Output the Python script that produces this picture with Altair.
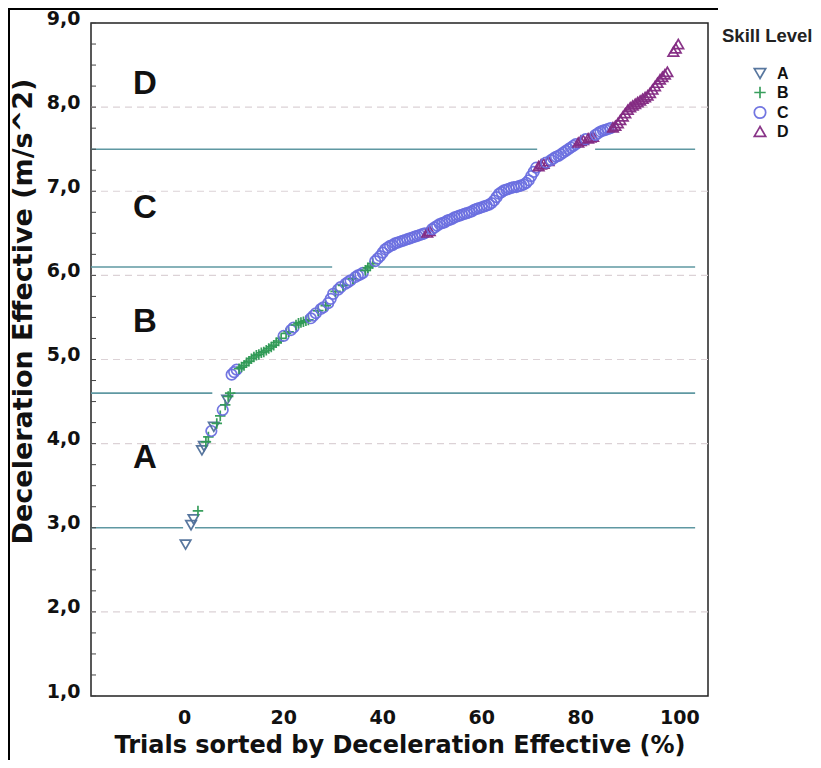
import altair as alt
import pandas as pd

# ---- data ----
trial_pct = [
    0.3, 1.4, 1.9, 2.8,
    3.6, 4.0, 4.4, 4.9, 5.5, 6.0, 6.6, 7.3, 7.8, 8.3, 8.7, 8.9, 9.3,
    9.6, 10.1, 10.6, 11.1, 11.6, 12.1, 12.6, 13.1, 13.6, 14.1, 14.6, 15.1, 15.6, 16.1, 16.6,
    17.1, 17.6, 18.1, 18.6, 19.1, 19.6, 20.1, 20.6, 21.1, 21.6, 22.1, 22.6, 23.1, 23.6, 24.1,
    24.6, 25.1, 25.6, 26.1, 26.6, 27.1, 27.6, 28.1, 28.6, 29.1, 29.6, 30.1, 30.6, 31.1, 31.6,
    32.1, 32.6, 33.1, 33.6, 34.1, 34.6, 35.1, 35.6, 36.1, 36.6, 37.1, 37.6, 38.1, 38.6, 39.1,
    39.6, 40.1, 40.6, 41.1, 41.6, 42.1, 42.6, 43.1, 43.6, 44.1, 44.6, 45.1, 45.6, 46.1, 46.6,
    47.1, 47.6, 48.1, 48.6, 49.1, 49.6, 50.1, 50.6, 51.1, 51.6, 52.1, 52.6, 53.1, 53.6, 54.1,
    54.6, 55.1, 55.6, 56.1, 56.6, 57.1, 57.6, 58.1, 58.6, 59.1, 59.6, 60.1, 60.6, 61.1, 61.6,
    62.1, 62.6, 63.1, 63.6, 64.1, 64.6, 65.1, 65.6, 66.1, 66.6, 67.1, 67.6, 68.1, 68.6, 69.1,
    69.6, 70.1, 70.6, 71.1, 71.6, 72.1, 72.6, 73.1, 73.6, 74.1, 74.6, 75.1, 75.6, 76.1, 76.6,
    77.1, 77.6, 78.1, 78.6, 79.1, 79.6, 80.1, 80.6, 81.1, 81.6, 82.1, 82.6, 83.1, 83.6, 84.1,
    84.6, 85.1, 85.6, 86.1, 86.6, 87.1, 87.6, 88.1, 88.6, 89.1, 89.6, 90.1, 90.6, 91.1, 91.6,
    92.1, 92.6, 93.1, 93.6, 94.1, 94.6, 95.1, 95.6, 96.1, 96.6, 97.1, 97.6, 98.8, 99.3, 99.8,
]
decel = [
    2.80, 3.03, 3.10, 3.20,
    3.92, 3.97, 4.02, 4.08, 4.15, 4.20, 4.24, 4.33, 4.40, 4.46, 4.52, 4.56, 4.60,
    4.82, 4.85, 4.88, 4.89, 4.91, 4.93, 4.96, 4.98, 5.01, 5.03, 5.05, 5.06, 5.08, 5.09, 5.11,
    5.13, 5.15, 5.17, 5.20, 5.22, 5.25, 5.28, 5.31, 5.33, 5.35, 5.38, 5.41, 5.43, 5.44, 5.45,
    5.46, 5.47, 5.49, 5.52, 5.55, 5.58, 5.60, 5.62, 5.64, 5.67, 5.72, 5.78, 5.81, 5.83, 5.86,
    5.88, 5.90, 5.92, 5.94, 5.96, 5.98, 6.00, 6.01, 6.03, 6.06, 6.09, 6.11, 6.14, 6.17, 6.20,
    6.23, 6.27, 6.31, 6.33, 6.35, 6.36, 6.38, 6.39, 6.40, 6.41, 6.42, 6.43, 6.44, 6.45, 6.46,
    6.47, 6.48, 6.49, 6.50, 6.51, 6.53, 6.55, 6.57, 6.59, 6.61, 6.62, 6.63, 6.65, 6.66, 6.67,
    6.69, 6.70, 6.71, 6.72, 6.73, 6.74, 6.75, 6.76, 6.78, 6.79, 6.80, 6.81, 6.82, 6.83, 6.84,
    6.86, 6.89, 6.93, 6.97, 6.99, 7.01, 7.02, 7.03, 7.04, 7.05, 7.05, 7.06, 7.07, 7.08, 7.10,
    7.13, 7.18, 7.23, 7.28, 7.30, 7.32, 7.33, 7.34, 7.36, 7.37, 7.39, 7.41, 7.42, 7.44, 7.46,
    7.48, 7.50, 7.52, 7.54, 7.56, 7.58, 7.60, 7.61, 7.62, 7.63, 7.64, 7.65, 7.67, 7.69, 7.71,
    7.72, 7.73, 7.74, 7.75, 7.76, 7.78, 7.81, 7.85, 7.89, 7.93, 7.97, 8.00, 8.02, 8.04, 8.06,
    8.08, 8.10, 8.12, 8.14, 8.17, 8.21, 8.25, 8.29, 8.33, 8.36, 8.39, 8.42, 8.66, 8.70, 8.75,
]
skill = [
    "A", "A", "A", "B",
    "A", "A", "B", "B", "C", "A", "B", "B", "C", "B", "A", "B", "B",
    "C", "C", "C", "B", "B", "B", "B", "B", "B", "B", "B", "B", "B", "B", "B",
    "B", "B", "B", "B", "B", "B", "C", "B", "B", "C", "C", "B", "B", "B", "B",
    "B", "B", "C", "C", "C", "B", "C", "C", "B", "C", "C", "C", "B", "C", "C",
    "B", "C", "C", "C", "B", "C", "C", "C", "C", "B", "B", "B", "B", "C", "C",
    "C", "C", "C", "C", "C", "C", "C", "C", "C", "C", "C", "C", "C", "C", "C",
    "C", "C", "C", "C", "D", "D", "C", "C", "C", "C", "C", "C", "C", "C", "C",
    "C", "C", "C", "C", "C", "C", "C", "C", "C", "C", "C", "C", "C", "C", "C",
    "C", "C", "C", "C", "C", "C", "C", "C", "C", "C", "C", "C", "C", "C", "C",
    "C", "C", "C", "C", "D", "D", "D", "C", "D", "C", "C", "C", "C", "C", "C",
    "C", "C", "C", "C", "C", "D", "D", "D", "C", "D", "D", "D", "C", "C", "C",
    "C", "C", "C", "C", "D", "D", "D", "D", "D", "D", "D", "D", "D", "D", "D",
    "D", "D", "D", "D", "D", "D", "D", "D", "D", "D", "D", "D", "D", "D", "D",
]

# reference lines (value, segment start, segment end)
ref_y = [7.5, 7.5, 6.1, 6.1, 4.6, 4.6, 3.0, 3.0]
ref_x1 = [-18.8, 83.0, -18.8, 39.2, -18.8, 9.8, -18.8, 2.2]
ref_x2 = [71.3, 103.2, 29.9, 103.2, 5.7, 103.2, -0.2, 103.2]

grid_y = [2.0, 4.0, 5.0, 6.0, 7.0, 8.0]

zone_labels = ["D", "C", "B", "A"]
zone_y = [8.27, 6.80, 5.45, 3.83]
zone_x = [-7.9, -7.9, -7.9, -7.9]

levels = ["A", "B", "C", "D"]
level_colors = ["#50709a", "#2f9a55", "#6b6fe0", "#832a82"]
level_shapes = ["triangle-down", "M-1,0H1M0,-1V1", "circle", "triangle-up"]

x_ticks = [0, 20, 40, 60, 80, 100]
y_ticks = [1, 2, 3, 4, 5, 6, 7, 8, 9]
y_minor = [1.0, 1.25, 1.5, 1.75, 2.0, 2.25, 2.5, 2.75, 3.0, 3.25, 3.5, 3.75, 4.0,
           4.25, 4.5, 4.75, 5.0, 5.25, 5.5, 5.75, 6.0, 6.25, 6.5, 6.75, 7.0,
           7.25, 7.5, 7.75, 8.0, 8.25, 8.5, 8.75, 9.0]

pts = pd.DataFrame({"x": trial_pct, "y": decel, "skill": skill})
refs = pd.DataFrame({"y": ref_y, "x1": ref_x1, "x2": ref_x2})
grid = pd.DataFrame({"y": grid_y})
zones = pd.DataFrame({"t": zone_labels, "x": zone_x, "y": zone_y})
ticks = pd.DataFrame({"y": y_minor})

xs = alt.Scale(domain=[-18.8, 105.8], nice=False, zero=False)
ys = alt.Scale(domain=[1, 9], nice=False, zero=False)

FONT = "Liberation Sans"
WIDE = "DejaVu Sans"

grid_layer = alt.Chart(grid).mark_rule(
    color="#dcd2d6", strokeWidth=1.2, strokeDash=[7, 5]
).encode(y=alt.Y("y:Q", scale=ys))

ref_layer = alt.Chart(refs).mark_rule(color="#5f98a2", strokeWidth=1.6).encode(
    x=alt.X("x1:Q", scale=xs),
    x2="x2:Q",
    y=alt.Y("y:Q", scale=ys),
)

tick_layer = alt.Chart(ticks).mark_rule(color="#444444", strokeWidth=1).encode(
    y=alt.Y("y:Q", scale=ys),
    x=alt.value(0),
    x2=alt.value(5),
)

# outer figure border (left and top)
border_left = alt.Chart(grid).mark_rule(color="#000000", strokeWidth=2).encode(
    x=alt.value(-82), y=alt.value(-15), y2=alt.value(740)
)
border_top = alt.Chart(grid).mark_rule(color="#000000", strokeWidth=2).encode(
    x=alt.value(-83), x2=alt.value(627), y=alt.value(-14)
)

zone_layer = alt.Chart(zones).mark_text(
    font=FONT, fontSize=33, fontWeight="bold", color="#111111"
).encode(
    x=alt.X("x:Q", scale=xs),
    y=alt.Y("y:Q", scale=ys),
    text="t:N",
)

pt_layer = alt.Chart(pts).mark_point(
    filled=False, size=110, strokeWidth=1.7, opacity=0.95
).encode(
    x=alt.X(
        "x:Q",
        scale=xs,
        axis=alt.Axis(
            values=x_ticks,
            title="Trials sorted by Deceleration Effective (%)",
            ticks=False,
            labelPadding=12,
            titlePadding=6,
            labelFont=WIDE,
            labelFontSize=19,
            titleFont=WIDE,
            titleFontSize=24,
        ),
    ),
    y=alt.Y(
        "y:Q",
        scale=ys,
        axis=alt.Axis(
            values=y_ticks,
            title="Deceleration Effective (m/s^2)",
            labelExpr="replace(format(datum.value, '.1f'), '.', ',')",
            ticks=False,
            labelPadding=11,
            labelOffset=-5,
            titlePadding=9,
            titleY=288,
            labelFont=WIDE,
            labelFontSize=19,
            titleFont=WIDE,
            titleFontSize=27,
        ),
    ),
    color=alt.Color(
        "skill:N",
        scale=alt.Scale(domain=levels, range=level_colors),
        legend=alt.Legend(
            title="Skill Level",
            orient="none",
            legendX=631,
            legendY=4,
            symbolSize=130,
            symbolStrokeWidth=1.7,
            symbolOffset=30,
            labelFontSize=16,
            labelFontWeight="bold",
            labelFont=FONT,
            labelColor="#111111",
            titleFont=FONT,
            titleFontSize=18.5,
            titleFontWeight="bold",
            titleColor="#222222",
            rowPadding=0,
            labelOffset=9,
            titlePadding=20,
        ),
    ),
    shape=alt.Shape("skill:N", scale=alt.Scale(domain=levels, range=level_shapes)),
)

chart = (
    alt.layer(border_left, border_top, grid_layer, ref_layer, tick_layer, zone_layer, pt_layer)
    .properties(
        width=617,
        height=673,
        autosize=alt.AutoSizeParams(type="none"),
        padding={"left": 83, "top": 15, "right": 105, "bottom": 64},
    )
    .configure_view(stroke="#222222", strokeWidth=1.5)
    .configure_axis(
        grid=False,
        domain=False,
        labelFont=FONT,
        titleFont=FONT,
        labelFontWeight="bold",
        labelColor="#111111",
        titleFontWeight="bold",
        titleColor="#111111",
    )
)

chart.save("out.html", embed_options={"renderer": "svg", "actions": False})
